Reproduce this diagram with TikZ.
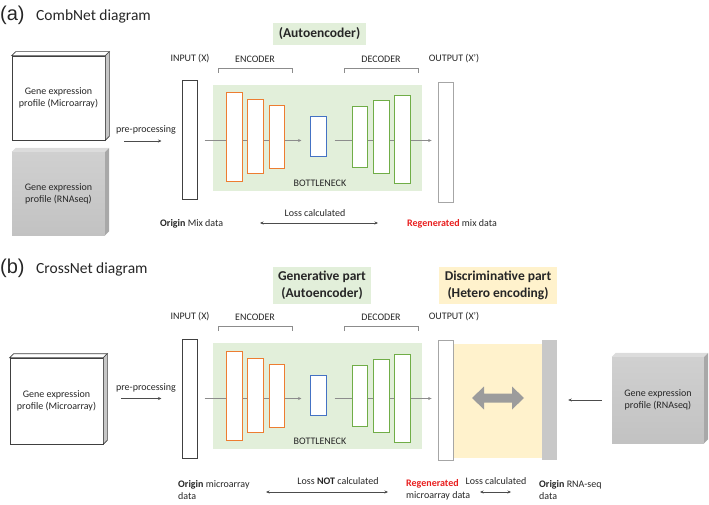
\documentclass[tikz,border=0pt]{standalone}
\usepackage{fontspec}
\setmainfont{Carlito}
\newfontfamily\arialf{Liberation Sans}
\usetikzlibrary{arrows.meta}
\definecolor{orgC}{HTML}{ED7D31}
\definecolor{grnC}{HTML}{70AD47}
\definecolor{bluC}{HTML}{4472C4}
\definecolor{gbgC}{HTML}{E2EFDA}
\definecolor{yelC}{HTML}{FFF2CC}
\definecolor{txtC}{HTML}{262626}
\definecolor{redC}{HTML}{E81E1E}
\definecolor{barC}{HTML}{C8C8C8}
\definecolor{gtopC}{HTML}{D0D0D0}
\definecolor{gbotC}{HTML}{C2C2C2}
\definecolor{gsideC}{HTML}{A8A8A8}
\definecolor{gtfC}{HTML}{DCDCDC}
\definecolor{darrC}{HTML}{9C9C9C}
\pgfdeclarelayer{bg}\pgfdeclarelayer{ln}\pgfsetlayers{bg,ln,main}
\begin{document}
\begin{tikzpicture}[x=1pt,y=-1pt,
  lbl/.style={font=\fontsize{10}{12}\selectfont, text=txtC, inner sep=0pt, align=center},
  lbll/.style={lbl, align=left, anchor=west},
  ttl/.style={font=\fontsize{15.5}{18}\selectfont, text=txtC, inner sep=0pt, anchor=west},
  tag/.style={font=\arialf\fontsize{20}{22}\selectfont, text=txtC, inner sep=0pt, anchor=west},
  hdr/.style={font=\fontsize{13.5}{17}\selectfont\bfseries, text=txtC, inner sep=0pt, align=center},
  lay/.style={draw, fill=white, inner sep=0pt, line width=1pt},
  inpbox/.style={lay, draw=black!75},
  outbox/.style={lay, draw=black!35, line width=0.8pt},
  enc/.style={lay, draw=orgC},
  dec/.style={lay, draw=grnC},
  bot/.style={lay, draw=bluC},
  wbox/.style={lbl, draw=black!75, fill=white, line width=0.6pt},
  gbox/.style={lbl, top color=gtopC, bottom color=gbotC, draw=none},
  conn/.style={draw=black!70, line width=0.5pt, -{Stealth[length=3.5pt,width=3pt]}},
  thru/.style={conn, draw=black!45},
  dbl/.style={draw=black!70, line width=0.5pt, {Stealth[length=3.5pt,width=3pt]}-{Stealth[length=3.5pt,width=3pt]}},
  brk/.style={draw=black!45, line width=0.6pt}
]
\useasboundingbox (0,0) rectangle (709,505);

% ---------- titles ----------
\node[tag] (ta) at (0,15) {(a)};
\node[ttl] (tat) at (36,16) {CombNet diagram};
\node[tag] (tb) at (0,268) {(b)};
\node[ttl] (tbt) at (36,269) {CrossNet diagram};

% ---------- header boxes ----------
\node[hdr, fill=gbgC, minimum width=93pt, minimum height=22pt] (aae) at (319.5,34) {(Autoencoder)};
\node[hdr, fill=gbgC, minimum width=98pt, minimum height=37pt] (bgen) at (322,285.5) {Generative part\\(Autoencoder)};
\node[hdr, fill=yelC, minimum width=118pt, minimum height=37pt] (bdis) at (498,285.5) {Discriminative part\\(Hetero encoding)};

% ---------- central autoencoder (both panels) ----------
\foreach \p/\dy in {a/0,b/258}{
\begin{scope}[shift={(0,\dy)}]
  \begin{pgfonlayer}{bg}
    \node[fill=gbgC, inner sep=0pt, minimum width=209pt, minimum height=106pt] (\p gb) at (317.5,138) {};
  \end{pgfonlayer}
  \node[inpbox, minimum width=15pt, minimum height=119pt] (\p in) at (189.5,140.5) {};
  \node[enc, minimum width=16pt, minimum height=89pt] (\p e1) at (234,137.5) {};
  \node[enc, minimum width=16pt, minimum height=74pt] (\p e2) at (255,137) {};
  \node[enc, minimum width=15pt, minimum height=63pt] (\p e3) at (276.5,137.5) {};
  \node[bot, minimum width=16pt, minimum height=40pt] (\p bn) at (318,137) {};
  \node[dec, minimum width=15pt, minimum height=61pt] (\p d1) at (359.5,137.5) {};
  \node[dec, minimum width=16pt, minimum height=73pt] (\p d2) at (381,137.5) {};
  \node[dec, minimum width=16pt, minimum height=88pt] (\p d3) at (402,140) {};
  \node[outbox, minimum width=15pt, minimum height=120pt] (\p out) at (445.5,142) {};
  \begin{pgfonlayer}{ln}
    \draw[thru, shorten <=7pt, shorten >=8pt] (\p in.east) -- (\p in.east -| \p bn.west);
    \draw[thru, shorten <=8pt, shorten >=6pt] (\p in.east -| \p bn.east) -- (\p in.east -| \p out.west);
  \end{pgfonlayer}
  \node[lbl] (\p inl) at (190,59) {INPUT (X)};
  \node[lbl] (\p encl) at (255,59) {ENCODER};
  \node[lbl] (\p decl) at (381,59) {DECODER};
  \node[lbl] (\p outl) at (454,59) {OUTPUT (X’)};
  \node[lbl] (\p bnl) at (320,183) {BOTTLENECK};
  \draw[brk] (218,73) -- (218,68) -- (292,68) -- (292,73);
  \draw[brk] (344,73) -- (344,68) -- (418,68) -- (418,73);
  \node[lbl] (\p ppl) at (146,130) {pre-processing};
\end{scope}
}

% ---------- 3D boxes ----------
% (a) microarray
\node[wbox, minimum width=93pt, minimum height=84pt] (amic) at (58.5,98) {Gene expression\\profile (Microarray)};
\draw[draw=black!75, fill=white, line width=0.6pt] (amic.north west) -- ++(4,-4) -- ([shift={(4,-4)}]amic.north east) -- (amic.north east) -- cycle;
\draw[draw=black!75, fill=black!22, line width=0.6pt] (amic.north east) -- ++(4,-4) -- ([shift={(4,-4)}]amic.south east) -- (amic.south east) -- cycle;
% (a) RNAseq
\node[gbox, minimum width=93pt, minimum height=83pt] (arna) at (58.5,193.5) {Gene expression\\profile (RNAseq)};
\fill[gtfC] (arna.north west) -- ++(4,-4) -- ([shift={(4,-4)}]arna.north east) -- (arna.north east) -- cycle;
\fill[gsideC] (arna.north east) -- ++(4,-4) -- ([shift={(4,-4)}]arna.south east) -- (arna.south east) -- cycle;
% (b) microarray
\node[wbox, minimum width=93pt, minimum height=86pt] (bmic) at (56.5,401) {Gene expression\\profile (Microarray)};
\draw[draw=black!75, fill=white, line width=0.6pt] (bmic.north west) -- ++(4,-4) -- ([shift={(4,-4)}]bmic.north east) -- (bmic.north east) -- cycle;
\draw[draw=black!75, fill=black!22, line width=0.6pt] (bmic.north east) -- ++(4,-4) -- ([shift={(4,-4)}]bmic.south east) -- (bmic.south east) -- cycle;
% (b) RNAseq
\node[gbox, minimum width=92pt, minimum height=86pt] (brna) at (658,400) {Gene expression\\profile (RNAseq)};
\fill[gtfC] (brna.north west) -- ++(4,-4) -- ([shift={(4,-4)}]brna.north east) -- (brna.north east) -- cycle;
\fill[gsideC] (brna.north east) -- ++(4,-4) -- ([shift={(4,-4)}]brna.south east) -- (brna.south east) -- cycle;

% ---------- pre-processing arrows ----------
\coordinate (app) at (124,141);
\draw[conn, shorten >=20pt] (app) -- (app -| ain.west);
\draw[conn, shorten <=18pt, shorten >=20pt] (bmic.east |- bin.west) -- (bin.west);

% ---------- discriminative part ----------
\begin{pgfonlayer}{bg}
  \node[fill=yelC, inner sep=0pt, minimum width=89pt, minimum height=114pt] (byel) at (497.5,401) {};
\end{pgfonlayer}
\node[fill=barC, inner sep=0pt, minimum width=15pt, minimum height=120pt] (bbar) at (549.5,400) {};
\fill[darrC] (472,398) -- (484,386.5) -- (484,393.5) -- (512,393.5) -- (512,386.5) -- (524,398)
  -- (512,409.5) -- (512,402.5) -- (484,402.5) -- (484,409.5) -- cycle;
\draw[conn, shorten <=10pt, shorten >=11pt] (brna.west) -- (brna.west -| bbar.east);

% ---------- bottom labels (a) ----------
\node[lbll] (aorig) at (160,224) {\textbf{Origin} Mix data};
\node[lbll] (aregen) at (407,224) {\textcolor{redC}{\textbf{Regenerated}} mix data};
\node[lbl] (aloss) at (315,213) {Loss calculated};
\coordinate (al1) at (260,223);
\coordinate (al2) at (378,223);
\draw[dbl] (al1) -- (al2);

% ---------- bottom labels (b) ----------
\node[lbll] (borig) at (178,490) {\textbf{Origin} microarray\\data};
\node[lbll] (bregen) at (406,490) {\textcolor{redC}{\textbf{Regenerated}}\\microarray data};
\node[lbll] (brnao) at (539,490) {\textbf{Origin} RNA-seq\\data};
\node[lbl] (bnot) at (338,481) {Loss \textbf{NOT} calculated};
\node[lbl] (bloss) at (496,481) {Loss calculated};
\coordinate (bl1) at (266,492);
\coordinate (bl2) at (388,492);
\draw[dbl] (bl1) -- (bl2);
\coordinate (bl3) at (480,492);
\coordinate (bl4) at (511,492);
\draw[dbl] (bl3) -- (bl4);
\end{tikzpicture}
\end{document}
